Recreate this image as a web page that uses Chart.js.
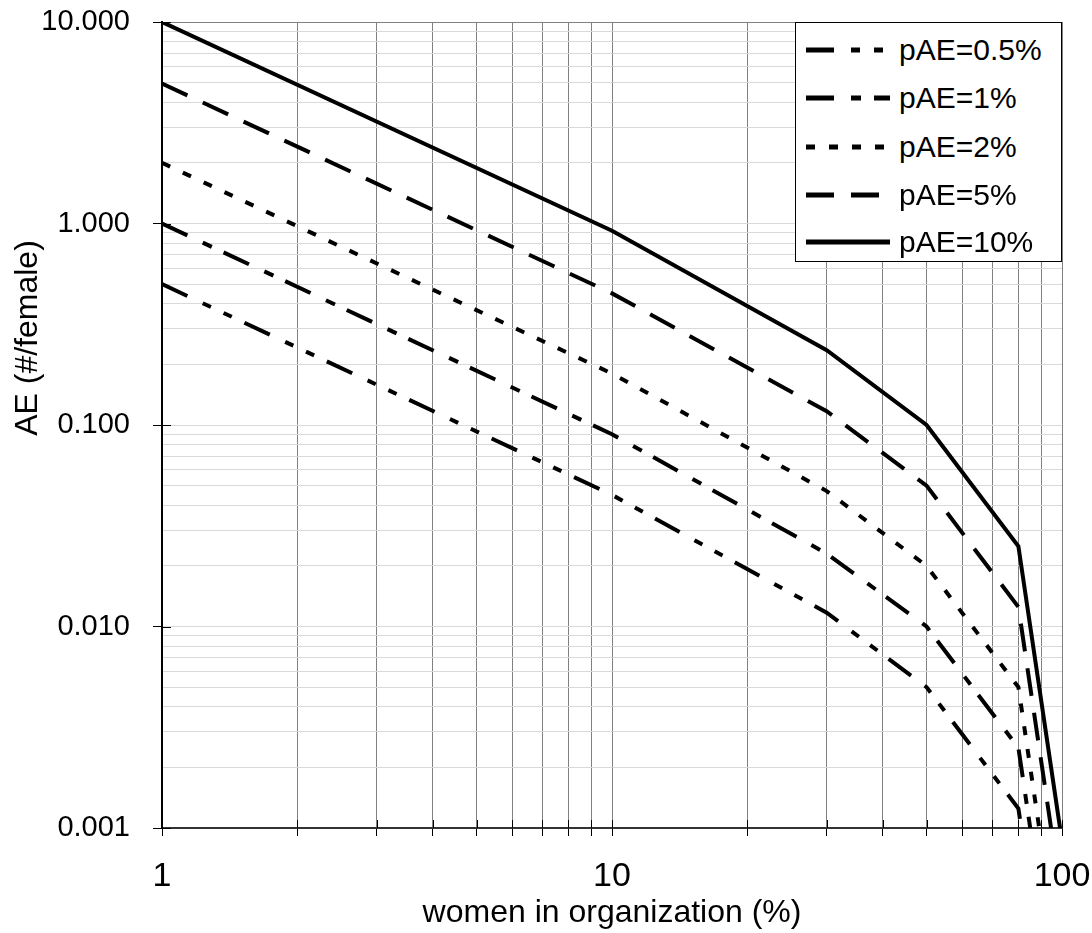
<!DOCTYPE html>
<html lang="en">
<head>
<meta charset="UTF-8">
<title>AE per female vs women in organization</title>
<script src="https://cdn.jsdelivr.net/npm/chart.js"></script>
<style>
    html, body { margin: 0; padding: 0; background: #fff; }
    #wrap { position: relative; width: 1092px; height: 933px; }
    #legend {
        position: absolute; left: 795px; top: 22px; width: 267px; height: 240px;
        box-sizing: border-box; border: 1.5px solid #000; background: #fff;
        font-family: 'Liberation Sans', Arial, sans-serif; font-size: 30px; color: #000;
    }
    .legend-row { position: absolute; left: 0; height: 48px; display: flex; align-items: center; white-space: nowrap; }
    .legend-row svg { margin-left: 10px; margin-right: 9px; }
</style>
</head>
<body>
<div id="wrap">
    <canvas id="aeChart" width="1092" height="933"></canvas>
    <div id="legend"></div>
</div>

<script>
    // values (x = % women, y = AE per female)
    const womenPct = [1, 10, 30, 50, 80, 99];
    const ae05 = [0.5, 0.045, 0.0117, 0.005, 0.00125, 0.00005];
    const ae1 = [1.0, 0.09, 0.023, 0.01, 0.0025, 0.0001];
    const ae2 = [2.0, 0.18, 0.047, 0.02, 0.005, 0.0002];
    const ae5 = [4.95, 0.45, 0.117, 0.05, 0.0125, 0.0005];
    const ae10 = [10.0, 0.92, 0.235, 0.1, 0.025, 0.001];

    const seriesNames = ['pAE=0.5%', 'pAE=1%', 'pAE=2%', 'pAE=5%', 'pAE=10%'];
    const seriesValues = [ae05, ae1, ae2, ae5, ae10];
    const seriesDash = [[28, 17, 9, 14, 9, 14], [28, 17, 10, 13], [9, 14], [28, 17], []];

    const xTickValues = [1, 2, 3, 4, 5, 6, 7, 8, 9, 10, 20, 30, 40, 50, 60, 70, 80, 90, 100];
    const xTickLabels = [1, 10, 100];
    const yDecades = [0.001, 0.01, 0.1, 1, 10];

    const yTickValues = [];
    yDecades.forEach(d => {
        for (let k = 1; k <= 9; k++) {
            if (d * k <= 10.0001) yTickValues.push(d * k);
        }
    });

    function isDecade(v) {
        const l = Math.log10(v);
        return Math.abs(l - Math.round(l)) < 1e-6;
    }

    // legend (html, built from the same arrays)
    const legendBox = document.getElementById('legend');
    const rowCenters = [28, 76, 125, 173, 220];
    seriesNames.forEach((name, i) => {
        const row = document.createElement('div');
        row.className = 'legend-row';
        row.style.top = (rowCenters[i] - 24 - 1.5) + 'px';
        const dash = seriesDash[i].length ? seriesDash[i].join(' ') : 'none';
        row.innerHTML = '<svg width="84" height="10"><line x1="0" y1="5" x2="84" y2="5" stroke="#000" stroke-width="5" stroke-dasharray="' + dash + '"/></svg><span>' + name + '</span>';
        legendBox.appendChild(row);
    });

    // tick marks that cross the axis + the rotated y title
    const axisExtras = {
        id: 'axisExtras',
        afterDraw(chart) {
            const { ctx, chartArea, scales } = chart;
            ctx.save();
            ctx.strokeStyle = '#000';
            ctx.lineWidth = 1;
            ctx.beginPath();
            scales.x.ticks.forEach(t => {
                const px = Math.round(scales.x.getPixelForValue(t.value)) + 0.5;
                ctx.moveTo(px, chartArea.bottom);
                ctx.lineTo(px, chartArea.bottom - 8);
            });
            scales.y.ticks.forEach(t => {
                if (!isDecade(t.value)) return;
                const py = Math.round(scales.y.getPixelForValue(t.value)) + 0.5;
                ctx.moveTo(chartArea.left, py);
                ctx.lineTo(chartArea.left + 9, py);
            });
            ctx.stroke();

            ctx.translate(28, 338);
            ctx.rotate(-Math.PI / 2);
            ctx.fillStyle = '#000';
            ctx.font = "32px 'Liberation Sans', Arial, sans-serif";
            ctx.textAlign = 'center';
            ctx.textBaseline = 'middle';
            ctx.fillText('AE (#/female)', 0, 0);
            ctx.restore();
        }
    };

    const datasets = seriesNames.map((name, i) => ({
        label: name,
        data: womenPct.map((x, j) => ({ x: x, y: seriesValues[i][j] })),
        borderColor: '#000',
        borderWidth: 4,
        borderDash: seriesDash[i],
        pointRadius: 0,
        tension: 0,
        fill: false,
        clip: 0
    }));

    new Chart(document.getElementById('aeChart'), {
        type: 'line',
        data: { datasets: datasets },
        options: {
            responsive: false,
            animation: false,
            layout: { padding: 0 },
            plugins: {
                legend: { display: false },
                tooltip: { enabled: false }
            },
            scales: {
                x: {
                    type: 'logarithmic',
                    min: 1,
                    max: 100,
                    afterBuildTicks: scale => { scale.ticks = xTickValues.map(v => ({ value: v })); },
                    afterFit: scale => {
                        scale.height = 105;
                        scale.paddingLeft = 0;
                        scale.paddingRight = 30;
                    },
                    ticks: {
                        autoSkip: false,
                        maxRotation: 0,
                        padding: 20,
                        color: '#000',
                        font: { family: "'Liberation Sans', Arial, sans-serif", size: 34 },
                        callback: v => xTickLabels.includes(v) ? String(v) : ''
                    },
                    grid: { color: '#808080', lineWidth: 1, tickLength: 8, tickColor: '#000' },
                    border: { color: '#333', width: 2 },
                    title: {
                        display: true,
                        text: 'women in organization (%)',
                        color: '#000',
                        font: { family: "'Liberation Sans', Arial, sans-serif", size: 32, lineHeight: 1 },
                        padding: { top: 0, bottom: 4 }
                    }
                },
                y: {
                    type: 'logarithmic',
                    min: 0.001,
                    max: 10,
                    afterBuildTicks: scale => { scale.ticks = yTickValues.map(v => ({ value: v })); },
                    afterFit: scale => {
                        scale.width = 162;
                        scale.paddingTop = 22;
                        scale.paddingBottom = 0;
                    },
                    ticks: {
                        autoSkip: false,
                        padding: 23,
                        color: '#000',
                        font: { family: "'Liberation Sans', Arial, sans-serif", size: 29 },
                        callback: v => isDecade(v) ? v.toFixed(3) : ''
                    },
                    grid: {
                        color: ctx => (ctx.tick && isDecade(ctx.tick.value) && ctx.tick.value > 5) ? '#808080' : '#d9d9d9',
                        lineWidth: 1,
                        tickLength: 9,
                        tickColor: ctx => (ctx.tick && isDecade(ctx.tick.value)) ? '#000' : 'rgba(0,0,0,0)'
                    },
                    border: { color: '#000', width: 2 }
                }
            }
        },
        plugins: [axisExtras]
    });
</script>
</body>
</html>
